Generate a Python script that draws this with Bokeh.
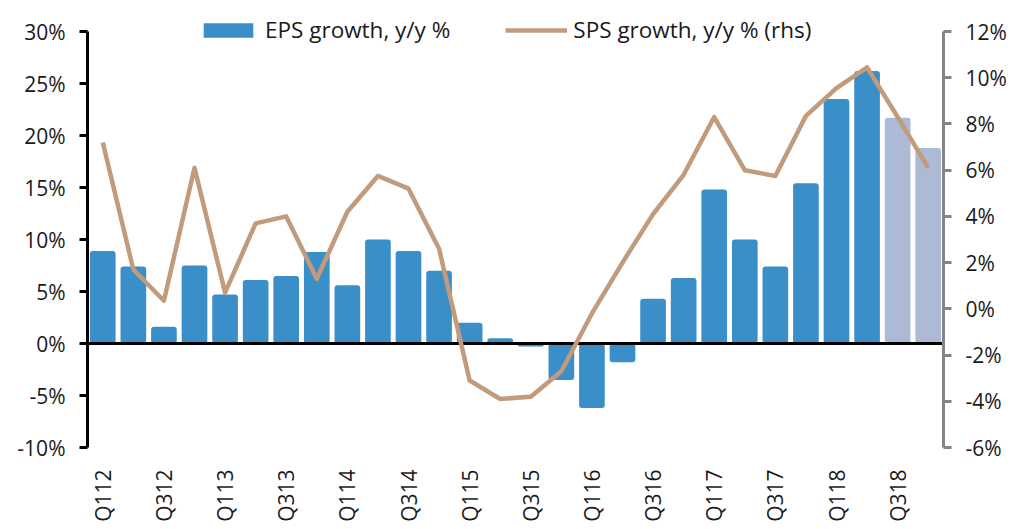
import math
from bokeh.plotting import figure
from bokeh.models import (Range1d, LinearAxis, FixedTicker, CustomJSTickFormatter,
                          Legend, LegendItem, ColumnDataSource)
from bokeh.embed import file_html
from bokeh.resources import INLINE

quarters = ["Q112", "Q212", "Q312", "Q412", "Q113", "Q213", "Q313", "Q413",
            "Q114", "Q214", "Q314", "Q414", "Q115", "Q215", "Q315", "Q415",
            "Q116", "Q216", "Q316", "Q416", "Q117", "Q217", "Q317", "Q417",
            "Q118", "Q218", "Q318", "Q418"]
eps_growth = [8.9, 7.4, 1.6, 7.5, 4.7, 6.1, 6.5, 8.8,
              5.6, 10.0, 8.9, 7.0, 2.0, 0.5, -0.3, -3.5,
              -6.2, -1.8, 4.3, 6.3, 14.8, 10.0, 7.4, 15.4,
              23.5, 26.2, 21.7, 18.8]
sps_growth = [7.2, 1.7, 0.35, 6.1, 0.7, 3.7, 4.0, 1.3,
              4.2, 5.75, 5.2, 2.6, -3.1, -3.9, -3.8, -2.7,
              -0.2, 2.0, 4.1, 5.8, 8.3, 6.0, 5.75, 8.35,
              9.55, 10.45, 8.3, 6.1]
is_estimate = [False] * 26 + [True] * 2
left_ticks = [-10, -5, 0, 5, 10, 15, 20, 25, 30]
right_ticks = [-6, -4, -2, 0, 2, 4, 6, 8, 10, 12]

FONT = "Open Sans"
TXT = "#1a1a1a"
BLUE = "#3a8fc8"
LIGHT = "#adbad6"
TAN = "#c19b7b"

# frame extends 20px above the top tick to leave room for the legend
L_MIN, L_MAX = left_ticks[0], left_ticks[-1]
R_MIN, R_MAX = right_ticks[0], right_ticks[-1]
AXIS_PX = 416
EXTRA_PX = 20
l_end = L_MAX + EXTRA_PX * (L_MAX - L_MIN) / AXIS_PX
r_end = R_MAX + EXTRA_PX * (R_MAX - R_MIN) / AXIS_PX

xs = list(range(1, len(quarters) + 1))
src = ColumnDataSource(dict(
    x=xs, eps=eps_growth, sps=sps_growth,
    color=[LIGHT if e else BLUE for e in is_estimate],
))

p = figure(width=1018, height=529, output_backend="svg", toolbar_location=None,
           x_range=Range1d(0.5, len(quarters) + 0.5), y_range=Range1d(L_MIN, l_end),
           min_border_left=87, min_border_right=75, min_border_top=31 - EXTRA_PX,
           min_border_bottom=82)
p.extra_y_ranges = {"rhs": Range1d(R_MIN, r_end)}
p.outline_line_color = None
p.xgrid.visible = False
p.ygrid.visible = False
p.background_fill_color = "white"
p.border_fill_color = "white"

bars = p.vbar(x="x", top="eps", bottom=0, width=0.84, fill_color="color",
              line_color=None, source=src, border_radius=3)
p.hspan(y=[0], line_color="black", line_width=3)
ln = p.line(x="x", y="sps", source=src, y_range_name="rhs", line_color=TAN,
            line_width=4.5, line_join="round")

# left axis
ya = p.yaxis[0]
ya.bounds = (L_MIN, L_MAX)
ya.ticker = FixedTicker(ticks=left_ticks)
ya.formatter = CustomJSTickFormatter(code="return tick + '%';")
ya.axis_line_color = "black"
ya.axis_line_width = 3
ya.major_tick_line_color = "black"
ya.major_tick_line_width = 3
ya.major_tick_out = 8
ya.major_tick_in = 0
ya.minor_tick_line_color = None
ya.major_label_text_font = FONT
ya.major_label_text_font_size = "21px"
ya.major_label_text_color = TXT
ya.major_label_standoff = 14

# right axis
ra = LinearAxis(y_range_name="rhs", ticker=FixedTicker(ticks=right_ticks),
                formatter=CustomJSTickFormatter(code="return tick + '%';"),
                bounds=(R_MIN, R_MAX))
ra.axis_line_color = "#858585"
ra.axis_line_width = 3
ra.major_tick_line_color = "#858585"
ra.major_tick_line_width = 3
ra.major_tick_out = 8
ra.major_tick_in = 0
ra.minor_tick_line_color = None
ra.major_label_text_font = FONT
ra.major_label_text_font_size = "21px"
ra.major_label_text_color = TXT
ra.major_label_standoff = 14
p.add_layout(ra, "right")

# bottom axis
xa = p.xaxis[0]
xa.ticker = FixedTicker(ticks=xs[::2])
xa.formatter = CustomJSTickFormatter(args=dict(q=quarters),
                                     code="return q[Math.round(tick) - 1];")
xa.major_label_orientation = math.pi / 2
xa.axis_line_color = None
xa.major_tick_line_color = None
xa.minor_tick_line_color = None
xa.major_label_text_font = FONT
xa.major_label_text_font_size = "21px"
xa.major_label_text_color = TXT
xa.major_label_standoff = 16

legend = Legend(items=[
    LegendItem(label="EPS growth, y/y %", renderers=[bars], index=0),
    LegendItem(label="SPS growth, y/y % (rhs)", renderers=[ln]),
], orientation="horizontal", location=(110, 402))
legend.label_text_font = FONT
legend.label_text_font_size = "22.5px"
legend.label_text_color = TXT
legend.glyph_width = 62
legend.glyph_height = 18
legend.label_standoff = 6
legend.spacing = 55
legend.padding = 0
legend.margin = 0
legend.border_line_color = None
legend.background_fill_alpha = 0
p.add_layout(legend, "center")

open("out.html", "w").write(file_html(p, INLINE))
